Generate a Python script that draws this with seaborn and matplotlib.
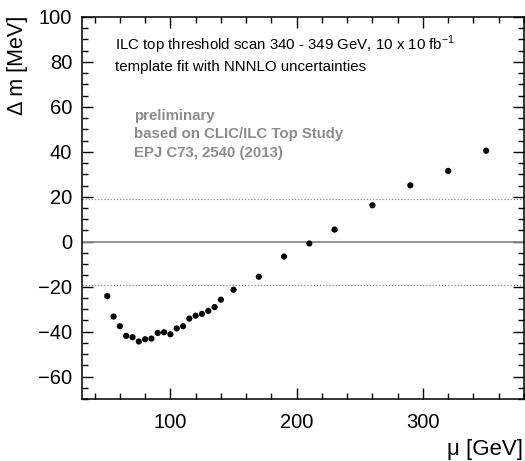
import numpy as np
import pandas as pd
import matplotlib
matplotlib.use('Agg')
import matplotlib.pyplot as plt
import seaborn as sns
from matplotlib.ticker import MultipleLocator

# scale mu [GeV] and resulting mass shift [MeV]
mu = [50, 55, 60, 65, 70, 75, 80, 85, 90, 95, 100, 105, 110, 115, 120,
      125, 130, 135, 140, 150, 170, 190, 210, 230, 260, 290, 320, 350]
delta_m = [-24.2, -33.3, -37.6, -41.9, -42.5, -44.4, -43.4, -43.1, -40.6,
           -40.3, -41.2, -38.6, -37.6, -34.2, -32.9, -32.1, -30.8, -29.1,
           -25.8, -21.4, -15.6, -6.6, -0.8, 5.4, 16.2, 25.1, 31.5, 40.5]
band = 19.2

df = pd.DataFrame({'mu': mu, 'dm': delta_m})

sns.set_style('ticks')
plt.rcParams['font.family'] = ['Liberation Sans', 'DejaVu Sans']
plt.rcParams['axes.unicode_minus'] = True
plt.rcParams['text.color'] = 'black'
plt.rcParams['xtick.color'] = 'black'
plt.rcParams['ytick.color'] = 'black'

fig = plt.figure(figsize=(5.25, 4.61), dpi=100)
ax = fig.add_axes([82 / 525, 62 / 461, 442 / 525, 382 / 461])

ax.axhline(0, color='#8a8a8a', lw=1.3, zorder=1)
ax.axhline(band, color='#8a8a8a', lw=0.9, ls=(0, (1, 1.5)), zorder=1)
ax.axhline(-band, color='#8a8a8a', lw=0.9, ls=(0, (1, 1.5)), zorder=1)

sns.scatterplot(data=df, x='mu', y='dm', ax=ax, color='black', s=20,
                edgecolor='none', zorder=3)

ax.set_xlim(30, 380)
ax.set_ylim(-70, 100)
ax.xaxis.set_major_locator(MultipleLocator(100))
ax.xaxis.set_minor_locator(MultipleLocator(20))
ax.yaxis.set_major_locator(MultipleLocator(20))
ax.yaxis.set_minor_locator(MultipleLocator(5))
ax.tick_params(which='both', direction='in', top=True, right=True,
               labelsize=14.5, width=1, color='black', labelcolor='black')
ax.tick_params(which='major', length=8, pad=7)
ax.tick_params(axis='x', which='major', pad=10)
ax.tick_params(which='minor', length=4)
for sp in ax.spines.values():
    sp.set_linewidth(1.1)
    sp.set_color('black')
ax.set_xlabel('')
ax.set_ylabel('')

fig.text(523 / 525, 1 - 455 / 461, 'μ [GeV]', ha='right', va='baseline',
         fontsize=16)
fig.text(28 / 525, 1 - 16 / 461, 'Δ m [MeV]', ha='right', va='top',
         rotation=90, fontsize=15.5)

fig.text(115 / 525, 1 - 49.5 / 461,
         'ILC top threshold scan 340 - 349 GeV, 10 x 10 fb$^{\\mathregular{-1}}$',
         ha='left', va='baseline', fontsize=10.8)
fig.text(115 / 525, 1 - 70.5 / 461, 'template fit with NNNLO uncertainties',
         ha='left', va='baseline', fontsize=10.8)

gray = '#8c8c8c'
for txt, yb in [('preliminary', 120), ('based on CLIC/ILC Top Study', 138),
                ('EPJ C73, 2540 (2013)', 156.5)]:
    fig.text(134 / 525, 1 - yb / 461, txt, ha='left', va='baseline',
             fontsize=10.8, fontweight='bold', color=gray)

fig.savefig('out.png', dpi=100)
